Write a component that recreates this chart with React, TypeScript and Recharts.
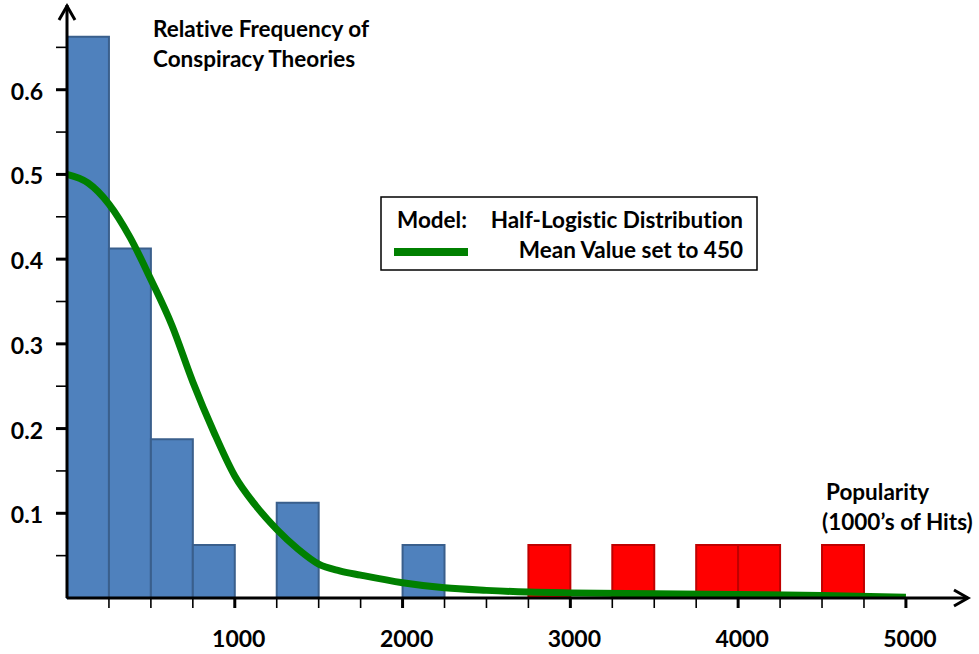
import { ComposedChart, Line, XAxis, YAxis, ReferenceArea } from 'recharts';

// histogram bins (start of each 250-wide bin) and relative frequencies
const BIN_WIDTH = 250;
const blueBins = [0, 250, 500, 750, 1250, 2000];
const blueFreq = [0.6625, 0.4125, 0.1875, 0.0625, 0.1125, 0.0625];
const redBins = [2750, 3250, 3750, 4000, 4500];
const redFreq = [0.0625, 0.0625, 0.0625, 0.0625, 0.0625];

// half-logistic model curve
const curveX = [0, 125, 250, 375, 500, 625, 750, 875, 1000, 1125, 1250, 1375, 1500, 1625, 1750, 2000, 2250, 2500, 2750, 3000, 3500, 4000, 4500, 5000];
const curveY = [0.5, 0.49, 0.465, 0.426, 0.376, 0.322, 0.255, 0.196, 0.144, 0.109, 0.081, 0.058, 0.04, 0.032, 0.027, 0.018, 0.012, 0.009, 0.007, 0.006, 0.005, 0.004, 0.003, 0.001];

const xTicks = [250, 500, 750, 1000, 1250, 1500, 1750, 2000, 2250, 2500, 2750, 3000, 3250, 3500, 3750, 4000, 4250, 4500, 4750, 5000];
const yTicks = [0.05, 0.1, 0.15, 0.2, 0.25, 0.3, 0.35, 0.4, 0.45, 0.5, 0.55, 0.6, 0.65];

const curve = curveX.map((x, i) => ({ x, y: curveY[i] }));

const FONT = 'Lato, "Open Sans", sans-serif';

const XTick = (props: any) => {
  const { x, y, payload } = props;
  const major = payload.value % 1000 === 0;
  return (
    <g>
      <line x1={x} x2={x} y1={y} y2={y + 10} stroke="#000" strokeWidth={major ? 3 : 1.6} />
      {major && (
        <text x={x + 4} y={y + 49} textAnchor="middle" fontFamily={FONT} fontWeight={700} fontSize={23} fill="#000">
          {payload.value}
        </text>
      )}
    </g>
  );
};

const YTick = (props: any) => {
  const { x, y, payload } = props;
  const v = payload.value;
  const major = Math.abs(v * 10 - Math.round(v * 10)) < 1e-6;
  return (
    <g>
      <line x1={x - 11} x2={x} y1={y} y2={y} stroke="#000" strokeWidth={major ? 3 : 1.6} />
      {major && (
        <text x={x - 24} y={y + 10} textAnchor="end" fontFamily={FONT} fontWeight={700} fontSize={23} fill="#000">
          {v.toFixed(1)}
        </text>
      )}
    </g>
  );
};

const txt = {
  fontFamily: FONT,
  fontWeight: 700,
  fontSize: 22.5,
  fill: '#000',
  style: { fontVariantLigatures: 'none' as const },
};

export default function App() {
  return (
    <div style={{ position: 'absolute', left: 0, top: 0, width: 979, height: 654, background: '#fff' }}>
      <ComposedChart width={979} height={654} data={curve} margin={{ top: 5, right: 11, bottom: 0, left: 0 }}>
        <XAxis
          dataKey="x"
          type="number"
          domain={[0, 5370]}
          ticks={xTicks}
          interval={0}
          height={56}
          tickSize={0}
          tickMargin={0}
          tick={<XTick />}
          axisLine={{ stroke: '#000', strokeWidth: 3 }}
          tickLine={false}
          allowDataOverflow
        />
        <YAxis
          type="number"
          domain={[0, 0.7]}
          ticks={yTicks}
          interval={0}
          width={67}
          tickSize={0}
          tickMargin={0}
          tick={<YTick />}
          axisLine={{ stroke: '#000', strokeWidth: 3 }}
          tickLine={false}
          allowDataOverflow
        />
        {blueBins.map((b, i) => (
          <ReferenceArea
            key={'b' + b}
            x1={b}
            x2={b + BIN_WIDTH}
            y1={0}
            y2={blueFreq[i]}
            fill="#4F81BD"
            fillOpacity={1}
            stroke="#3A5F8C"
            strokeWidth={2}
            ifOverflow="visible"
          />
        ))}
        {redBins.map((b, i) => (
          <ReferenceArea
            key={'r' + b}
            x1={b}
            x2={b + BIN_WIDTH}
            y1={0}
            y2={redFreq[i]}
            fill="#FF0000"
            fillOpacity={1}
            stroke="#C00000"
            strokeWidth={2}
            ifOverflow="visible"
          />
        ))}
        <Line
          dataKey="y"
          type="monotone"
          stroke="#008000"
          strokeWidth={7}
          dot={false}
          activeDot={false}
          isAnimationActive={false}
        />
      </ComposedChart>
      <svg width={979} height={654} style={{ position: 'absolute', left: 0, top: 0, pointerEvents: 'none' }}>
        <polyline points="59,20 67,6 75,20" fill="none" stroke="#000" strokeWidth={3} />
        <polyline points="954,590 968,598 954,606" fill="none" stroke="#000" strokeWidth={3} />
        <text x={153} y={37} {...txt}>Relative Frequency of</text>
        <text x={153} y={67} {...txt}>Conspiracy Theories</text>
        <text x={826} y={500} {...txt}>Popularity</text>
        <text x={822} y={530} {...txt}>(1000’s of Hits)</text>
        <rect x={381} y={197} width={376} height={73} fill="#fff" stroke="#000" strokeWidth={1.5} />
        <text x={397} y={228} {...txt}>Model:</text>
        <text x={743} y={228} textAnchor="end" {...txt}>Half-Logistic Distribution</text>
        <line x1={394} x2={468} y1={252} y2={252} stroke="#008000" strokeWidth={8} />
        <text x={743} y={258} textAnchor="end" {...txt}>Mean Value set to 450</text>
      </svg>
    </div>
  );
}
